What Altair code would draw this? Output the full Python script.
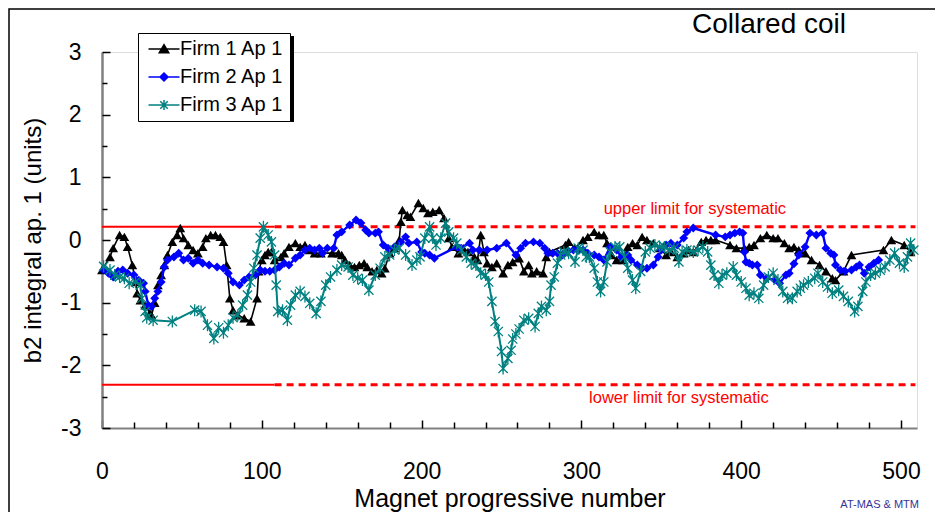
import altair as alt
import pandas as pd

# ---------------- data ----------------
series_names = ["Firm 1 Ap 1", "Firm 2 Ap 1", "Firm 3 Ap 1"]
series_colors = ["#000000", "#0000ff", "#008080"]

firm1_x = [0, 5, 7, 11, 14, 16, 19, 21, 22, 24, 27, 30, 31, 33, 35, 37, 39, 41, 44, 47,
           49, 51, 54, 57, 60, 63, 65, 68, 71, 74, 76, 78, 80, 82, 85, 89, 93, 97, 98, 100,
           102, 104, 106, 108, 112, 114, 117, 121, 124, 127, 130, 133, 137, 144, 148, 150, 152, 155, 158, 161,
           164, 166, 169, 172, 175, 177, 180, 183, 186, 187, 188, 191, 193, 198, 201, 204, 207, 211, 214, 217,
           219, 223, 226, 229, 233, 235, 237, 239, 241, 244, 247, 251, 254, 257, 261, 264, 267, 269, 272, 276,
           278, 280, 290, 292, 296, 301, 304, 308, 311, 314, 316, 319, 322, 326, 329, 332, 335, 338, 341, 345,
           349, 353, 356, 360, 364, 367, 370, 375, 378, 381, 384, 393, 397, 402, 405, 408, 412, 416, 420, 423,
           427, 430, 433, 436, 440, 444, 449, 453, 457, 459, 464, 469, 489, 494, 502, 506]
firm1_y = [-0.48, -0.27, -0.13, 0.08, 0.05, -0.11, -0.40, -0.67, -0.85, -0.96, -1.04, -1.17, -1.20, -1.00, -0.72, -0.56, -0.40, -0.24, -0.03, 0.08,
           0.19, 0.03, -0.08, -0.16, -0.21, -0.11, 0.03, 0.08, 0.08, 0.05, -0.03, -0.40, -0.93, -1.12, -1.20, -1.25, -1.30, -0.93, -0.50, -0.32,
           -0.24, -0.19, -0.19, -0.32, -0.27, -0.21, -0.11, -0.05, -0.11, -0.08, -0.16, -0.21, -0.21, -0.21, -0.21, -0.24, -0.32, -0.40, -0.43, -0.40,
           -0.37, -0.43, -0.50, -0.48, -0.53, -0.45, -0.21, -0.13, 0.00, 0.29, 0.48, 0.40, 0.37, 0.59, 0.51, 0.43, 0.45, 0.48, 0.35, 0.03,
           -0.11, -0.21, -0.13, -0.19, -0.27, -0.32, 0.08, -0.19, -0.37, -0.43, -0.37, -0.53, -0.40, -0.35, -0.29, -0.50, -0.40, -0.53, -0.50, -0.53,
           -0.27, -0.19, -0.08, -0.03, -0.13, 0.00, 0.05, 0.13, 0.08, 0.08, -0.05, -0.24, -0.32, -0.32, -0.11, -0.05, -0.08, 0.05, 0.00, -0.05,
           -0.13, -0.24, -0.19, -0.27, -0.21, -0.16, -0.19, -0.03, 0.00, 0.00, 0.00, -0.08, -0.13, -0.13, -0.11, -0.08, 0.03, 0.08, 0.03, 0.03,
           -0.05, -0.13, -0.11, -0.16, -0.21, -0.32, -0.40, -0.50, -0.61, -0.64, -0.50, -0.24, -0.16, 0.00, -0.08, -0.19]

firm2_x = [1, 4, 7, 10, 13, 16, 20, 23, 26, 27, 29, 31, 33, 35, 37, 39, 41, 45, 48, 51,
           54, 57, 60, 63, 67, 72, 76, 79, 82, 86, 89, 92, 96, 99, 102, 105, 108, 111, 114, 117,
           121, 124, 127, 130, 133, 136, 138, 141, 145, 147, 150, 155, 159, 162, 165, 167, 171, 173, 176, 179,
           183, 187, 190, 192, 197, 200, 202, 205, 208, 222, 224, 230, 232, 236, 241, 247, 253, 259, 262, 265,
           270, 274, 277, 279, 282, 285, 288, 291, 295, 298, 301, 304, 308, 311, 314, 318, 322, 325, 329, 331,
           335, 338, 341, 345, 348, 350, 353, 356, 360, 364, 366, 370, 384, 390, 393, 396, 399, 401, 402, 403,
           405, 407, 410, 412, 416, 421, 424, 428, 430, 433, 436, 440, 443, 447, 451, 453, 456, 458, 459, 462,
           465, 469, 472, 474, 477, 480, 483, 486]
firm2_y = [-0.48, -0.53, -0.59, -0.50, -0.48, -0.53, -0.56, -0.64, -0.69, -0.82, -1.04, -1.06, -0.93, -0.82, -0.67, -0.43, -0.32, -0.27, -0.21, -0.32,
           -0.29, -0.37, -0.32, -0.37, -0.40, -0.43, -0.45, -0.53, -0.67, -0.72, -0.64, -0.59, -0.56, -0.48, -0.50, -0.50, -0.48, -0.43, -0.37, -0.40,
           -0.29, -0.24, -0.16, -0.13, -0.16, -0.13, -0.21, -0.13, -0.13, 0.08, 0.13, 0.24, 0.32, 0.27, 0.16, 0.11, 0.11, 0.13, -0.08, -0.13,
           -0.11, -0.03, 0.05, -0.05, -0.03, -0.19, -0.21, -0.24, -0.29, -0.11, -0.13, -0.05, -0.16, -0.16, -0.16, -0.13, -0.05, -0.24, -0.13, -0.05,
           -0.03, -0.05, -0.13, -0.21, -0.21, -0.21, -0.24, -0.19, -0.16, -0.16, -0.16, -0.21, -0.24, -0.27, -0.32, -0.11, -0.16, -0.27, -0.24, -0.32,
           -0.40, -0.45, -0.45, -0.40, -0.27, -0.16, -0.08, -0.05, -0.08, 0.03, 0.13, 0.19, 0.08, 0.05, 0.08, 0.11, 0.13, 0.11, -0.19, -0.35,
           -0.37, -0.40, -0.40, -0.56, -0.61, -0.64, -0.69, -0.56, -0.53, -0.38, -0.24, -0.11, 0.11, 0.08, 0.11, -0.13, -0.21, -0.24, -0.40, -0.48,
           -0.50, -0.48, -0.43, -0.40, -0.53, -0.43, -0.37, -0.32]

firm3_x = [1, 5, 8, 11, 14, 17, 21, 24, 25, 27, 28, 32, 44, 58, 62, 66, 70, 73, 76, 79,
           82, 85, 88, 91, 93, 95, 97, 99, 101, 104, 106, 108, 109, 110, 113, 116, 118, 121, 124, 127,
           130, 134, 137, 140, 143, 147, 150, 154, 157, 160, 163, 167, 171, 174, 177, 180, 183, 186, 190, 194,
           197, 199, 202, 205, 207, 209, 212, 215, 217, 220, 222, 225, 228, 231, 234, 237, 240, 242, 244, 246,
           248, 250, 251, 254, 256, 257, 259, 261, 264, 267, 271, 273, 275, 278, 280, 281, 283, 285, 287, 289,
           292, 296, 298, 301, 303, 305, 308, 310, 312, 314, 316, 318, 321, 324, 327, 329, 332, 334, 337, 340,
           343, 346, 349, 352, 355, 358, 361, 363, 366, 370, 373, 376, 379, 381, 383, 386, 388, 391, 395, 397,
           400, 403, 405, 408, 411, 414, 417, 420, 423, 426, 429, 432, 435, 437, 439, 442, 446, 448, 451, 454,
           457, 461, 464, 467, 471, 473, 476, 478, 481, 484, 487, 490, 493, 496, 499, 502, 504, 506, 508]
firm3_y = [-0.42, -0.48, -0.56, -0.59, -0.61, -0.69, -0.67, -0.72, -0.93, -1.14, -1.24, -1.28, -1.30, -1.12, -1.14, -1.36, -1.57, -1.40, -1.48, -1.36,
           -1.24, -1.20, -1.04, -0.88, -0.67, -0.45, -0.24, 0.03, 0.21, 0.08, -0.03, -0.24, -0.72, -1.14, -1.12, -1.28, -1.04, -0.88, -0.82, -0.90,
           -1.01, -1.17, -0.98, -0.72, -0.59, -0.48, -0.40, -0.43, -0.56, -0.61, -0.64, -0.80, -0.56, -0.45, -0.27, -0.24, -0.16, -0.13, -0.24, -0.40,
           -0.32, -0.27, 0.03, 0.21, 0.03, -0.08, 0.03, 0.27, 0.13, 0.03, -0.05, -0.16, -0.27, -0.37, -0.40, -0.53, -0.56, -0.67, -0.98, -1.30,
           -1.46, -1.78, -2.05, -1.89, -1.76, -1.58, -1.50, -1.42, -1.28, -1.25, -1.38, -1.17, -1.06, -1.12, -0.98, -0.72, -0.59, -0.37, -0.24, -0.19,
           -0.21, -0.35, -0.13, -0.16, -0.27, -0.27, -0.45, -0.67, -0.82, -0.67, -0.35, -0.19, -0.11, -0.11, -0.27, -0.45, -0.64, -0.77, -0.50, -0.19,
           -0.13, -0.08, -0.11, -0.11, -0.16, -0.13, -0.35, -0.19, -0.16, -0.19, -0.16, -0.11, -0.19, -0.40, -0.56, -0.69, -0.56, -0.53, -0.43, -0.56,
           -0.67, -0.77, -0.88, -0.85, -0.93, -0.72, -0.59, -0.53, -0.64, -0.82, -0.93, -0.93, -0.82, -0.77, -0.72, -0.67, -0.61, -0.53, -0.67, -0.75,
           -0.85, -0.80, -0.90, -0.98, -1.14, -1.06, -0.82, -0.67, -0.56, -0.53, -0.48, -0.43, -0.32, -0.21, -0.37, -0.43, -0.27, -0.05, -0.16]

series_x = [firm1_x, firm2_x, firm3_x]
series_y = [firm1_y, firm2_y, firm3_y]

# systematic limits
limit_names = ["upper limit for systematic", "lower limit for systematic"]
limit_values = [0.21, -2.31]
limit_solid_range = [0, 108]
limit_dotted_range = [108, 509]
limit_label_x = [371, 361]
limit_label_y = [0.415, -2.6]

x_domain = [0, 510]
y_domain = [-3, 3]
x_major_ticks = [0, 100, 200, 300, 400, 500]
x_all_ticks = list(range(0, 501, 20))
y_major_ticks = [-3, -2, -1, 0, 1, 2, 3]
y_all_ticks = [v / 2 for v in range(-6, 7)]

chart_title = "Collared coil"
credit_text = "AT-MAS & MTM"

# ---------------- styling ----------------
FONT = "Liberation Sans"
W, H = 815, 376
ASTERISK = "M-1,-1L1,1M-1,1L1,-1M0,-1.3L0,1.3"
marker_shapes = ["triangle-up", "diamond", ASTERISK]
marker_filled = [True, True, False]
marker_sizes = [95, 80, 85]
line_widths = [1.6, 2.4, 2.0]
legend_shapes = [
    "M-3.1,0L3.1,0M0,-0.85L0.95,0.75L-0.95,0.75Z",
    "M-3.1,0L3.1,0M0,-0.8L0.8,0L0,0.8L-0.8,0Z",
    "M-3.1,0L3.1,0M-0.75,-0.75L0.75,0.75M-0.75,0.75L0.75,-0.75M0,-1L0,1",
]

xs = alt.Scale(domain=x_domain, nice=False, zero=False)
ys = alt.Scale(domain=y_domain, nice=False, zero=False)
plain_label = "'' + datum.value"

# decorations: outer frame and legend shadow
one = pd.DataFrame({"k": [0]})
frame = alt.Chart(one).mark_rect(fillOpacity=0, stroke="black", strokeWidth=1.5).encode(
    x=alt.value(-93), x2=alt.value(1200), y=alt.value(-43), y2=alt.value(900))
shadow = alt.Chart(one).mark_rect(color="black").encode(
    x=alt.value(39), x2=alt.value(192), y=alt.value(-16), y2=alt.value(70))

# limit lines
lim_solid = pd.DataFrame({"y": limit_values,
                          "x0": [limit_solid_range[0]] * 2, "x1": [limit_solid_range[1]] * 2})
lim_dot = pd.DataFrame({"y": limit_values,
                        "x0": [limit_dotted_range[0]] * 2, "x1": [limit_dotted_range[1]] * 2})

solid_rules = alt.Chart(lim_solid).mark_rule(color="#ff0000", strokeWidth=2).encode(
    x=alt.X("x0:Q", scale=xs, axis=alt.Axis(
        orient="bottom", title="Magnet progressive number", values=x_major_ticks,
        labelExpr=plain_label, ticks=False, tickSize=0, labelFontSize=23, labelPadding=50,
        labelBaseline="alphabetic", labelFlush=False, labelOverlap=False,
        domainColor="#808080", domainWidth=2, titleFontSize=25, titleFontWeight="normal",
        titleY=78, titleBaseline="alphabetic", grid=False)),
    x2="x1:Q",
    y=alt.Y("y:Q", scale=ys, axis=alt.Axis(
        orient="left", title="b2 integral ap. 1 (units)", values=y_major_ticks,
        labelExpr=plain_label, ticks=False, tickSize=0, labelFontSize=23, labelPadding=21,
        labelFlush=False, labelOverlap=False, domainColor="#808080", domainWidth=2.5,
        titleFontSize=24, titleFontWeight="normal", titleX=-62, titleBaseline="alphabetic",
        grid=False)),
)
dotted_rules = alt.Chart(lim_dot).mark_rule(color="#ff0000", strokeWidth=3, strokeDash=[7, 5]).encode(
    x=alt.X("x0:Q", scale=xs, axis=alt.Axis(
        orient="top", offset=-H, values=x_all_ticks, labels=False, domain=False, title=None,
        tickSize={"condition": {"test": "datum.value % 100 === 0", "value": 8}, "value": 6},
        tickColor="black", tickWidth=1.5, grid=False)),
    x2="x1:Q",
    y=alt.Y("y:Q", scale=ys, axis=alt.Axis(
        orient="right", offset=-W, values=y_all_ticks, labels=False, domain=False, title=None,
        tickSize={"condition": {"test": "datum.value % 1 === 0", "value": 8}, "value": 5},
        tickColor="black", tickWidth=1.5, grid=False)),
)

lim_text_df = pd.DataFrame({"label": limit_names, "x": limit_label_x, "y": limit_label_y})
limit_text = alt.Chart(lim_text_df).mark_text(
    color="#ff0000", font=FONT, fontSize=16.5, align="center", baseline="alphabetic").encode(
    x=alt.X("x:Q", scale=xs, axis=None), y=alt.Y("y:Q", scale=ys, axis=None), text="label:N")

series_layers = []
for i, name in enumerate(series_names):
    df = pd.DataFrame({"x": series_x[i], "y": series_y[i]})
    enc = dict(x=alt.X("x:Q", scale=xs, axis=None), y=alt.Y("y:Q", scale=ys, axis=None))
    series_layers.append(alt.Chart(df).mark_line(color=series_colors[i], strokeWidth=line_widths[i]).encode(**enc))
    series_layers.append(alt.Chart(df).mark_point(
        shape=marker_shapes[i], filled=marker_filled[i], color=series_colors[i],
        size=marker_sizes[i], strokeWidth=1.3, opacity=1).encode(**enc))

# legend (symbols: short line with marker, as in the reference)
leg_df = pd.DataFrame({"series": series_names})
leg = alt.Legend(title=None, orient="none", legendX=36, legendY=-19, fillColor="white",
                 strokeColor="black", padding=6, labelFont=FONT, labelFontSize=20,
                 labelColor="black", rowPadding=8, symbolSize=100, symbolStrokeWidth=1.5,
                 symbolFillColor="white", symbolOffset=10, labelOffset=6, labelLimit=0)
legend_layer = alt.Chart(leg_df).mark_point(filled=True, opacity=0, size=100, strokeWidth=1.5).encode(
    fill=alt.Fill("series:N", scale=alt.Scale(domain=series_names, range=series_colors), legend=leg),
    stroke=alt.Stroke("series:N", scale=alt.Scale(domain=series_names, range=series_colors), legend=leg),
    shape=alt.Shape("series:N", scale=alt.Scale(domain=series_names, range=legend_shapes), legend=leg),
)

title_text = alt.Chart(one).mark_text(text=chart_title, font=FONT, fontSize=28, color="black",
                                      align="center", baseline="alphabetic").encode(
    x=alt.value(667), y=alt.value(-19))
credit = alt.Chart(one).mark_text(text=credit_text, font=FONT, fontSize=11, color="#333399",
                                  align="right", baseline="alphabetic").encode(
    x=alt.value(817), y=alt.value(456))

chart = alt.layer(
    frame, shadow, solid_rules, dotted_rules, limit_text, *series_layers, legend_layer,
    title_text, credit
).resolve_axis(x="independent", y="independent").properties(
    width=W, height=H,
    autosize=alt.AutoSizeParams(type="none"),
    padding={"left": 94, "top": 44, "right": 18, "bottom": 84},
).configure_view(stroke=None).configure_axis(
    labelFont=FONT, titleFont=FONT, labelColor="black", titleColor="black",
    titleFontWeight="normal"
).configure(background="white")

chart.save("out.html", embed_options={"renderer": "svg", "actions": False})
